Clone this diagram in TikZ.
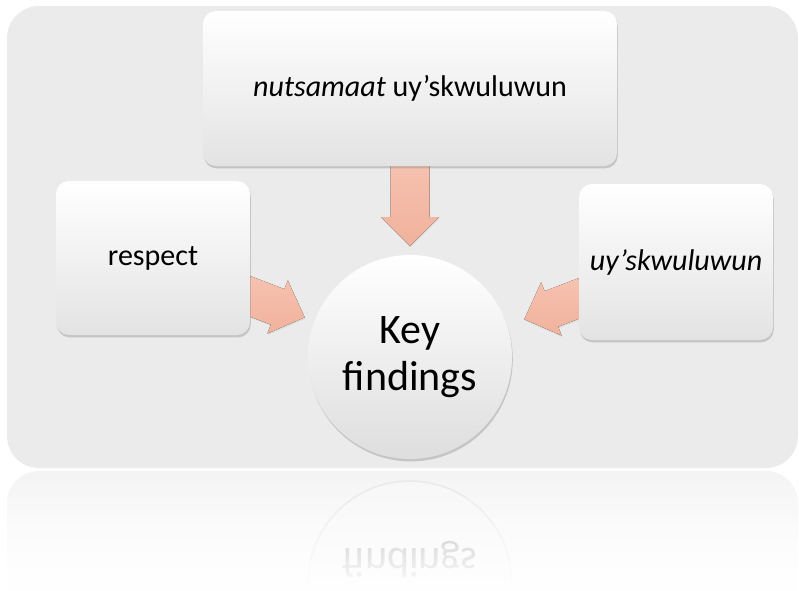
\documentclass[tikz,border=0pt]{standalone}
\usepackage{fontspec}
\usepackage{graphicx}
\setmainfont{Carlito}
\usetikzlibrary{shadows,fadings,calc}
\definecolor{bgc}{RGB}{235,235,235}
\definecolor{reflc}{RGB}{244,244,244}
\definecolor{arrc}{RGB}{240,178,156}
\definecolor{arrtop}{RGB}{246,194,176}
\tikzset{
  card/.style={rounded corners=13pt, top color=white, middle color=white, bottom color=black!11,
    drop shadow={shadow xshift=0.8pt, shadow yshift=-2.4pt, opacity=0.35},
    inner sep=0pt, align=center, font=\fontsize{30}{36}\selectfont},
  hub/.style={circle, top color=white, middle color=white, bottom color=black!13,
    drop shadow={shadow xshift=0.8pt, shadow yshift=-2.4pt, opacity=0.35},
    minimum size=204pt, inner sep=0pt, align=center, font=\fontsize{42}{47}\selectfont},
  flowarrow/.style={top color=arrtop, bottom color=arrc,
    drop shadow={shadow xshift=0.6pt, shadow yshift=-1.5pt, opacity=0.12}}
}
\begin{document}
\begin{tikzpicture}[x=1pt,y=1pt]
\useasboundingbox (0,0) rectangle (799,-590);
\begin{scope}
\clip (0,0) rectangle (799,-590);
% background panel
\fill[bgc, rounded corners=32pt] (7,-6) rectangle (798,-468);
% reflection of the panel
\shade[top color=reflc, bottom color=white, rounded corners=32pt] (7,-640) |- (798,-471) -- (798,-640) -- cycle;
% reflection of the circle
\node[circle, minimum size=204pt, inner sep=0pt, draw=black!9, line width=1.6pt, fill=white!97!black] (hubrefl) at (410,-583) {};
\node[anchor=base, inner sep=0pt, text=black!32, font=\fontsize{42}{47}\selectfont] (hubrefltext) at (410,-548) {\scalebox{1}[-1]{findings}};
\fill[white, path fading=north] (0,-471) rectangle (799,-592);
\end{scope}

% main nodes (positions)
\coordinate (ctop) at (410,-88.5);
\coordinate (cleft) at (153,-258);
\coordinate (cright) at (676,-262);
\coordinate (chub) at (410,-357);

% arrows
\begin{scope}[shift={(410,-160)}]
  \fill[flowarrow] (-19.5,0) -- (-19.5,-57) -- (-29,-57) -- (0,-86) -- (29,-57) -- (19.5,-57) -- (19.5,0) -- cycle;
\end{scope}
\begin{scope}[shift={(244,-294)}, rotate=-21]
  \fill[flowarrow] (0,19) -- (36,19) -- (36,28.5) -- (65,0) -- (36,-28.5) -- (36,-19) -- (0,-19) -- cycle;
\end{scope}
\begin{scope}[shift={(585,-296)}, rotate=201]
  \fill[flowarrow] (0,-19) -- (36,-19) -- (36,-28.5) -- (65,0) -- (36,28.5) -- (36,19) -- (0,19) -- cycle;
\end{scope}

\node[card, minimum width=414pt, minimum height=155pt] (top) at (ctop) {\textit{nutsamaat} uy’skwuluwun};
\node[card, minimum width=194pt, minimum height=154pt] (left) at (cleft) {respect};
\node[card, minimum width=194pt, minimum height=156pt] (right) at (cright) {\textit{uy’skwuluwun}};
\node[hub] (hub) at (chub) {Key\\findings};
\end{tikzpicture}
\end{document}
